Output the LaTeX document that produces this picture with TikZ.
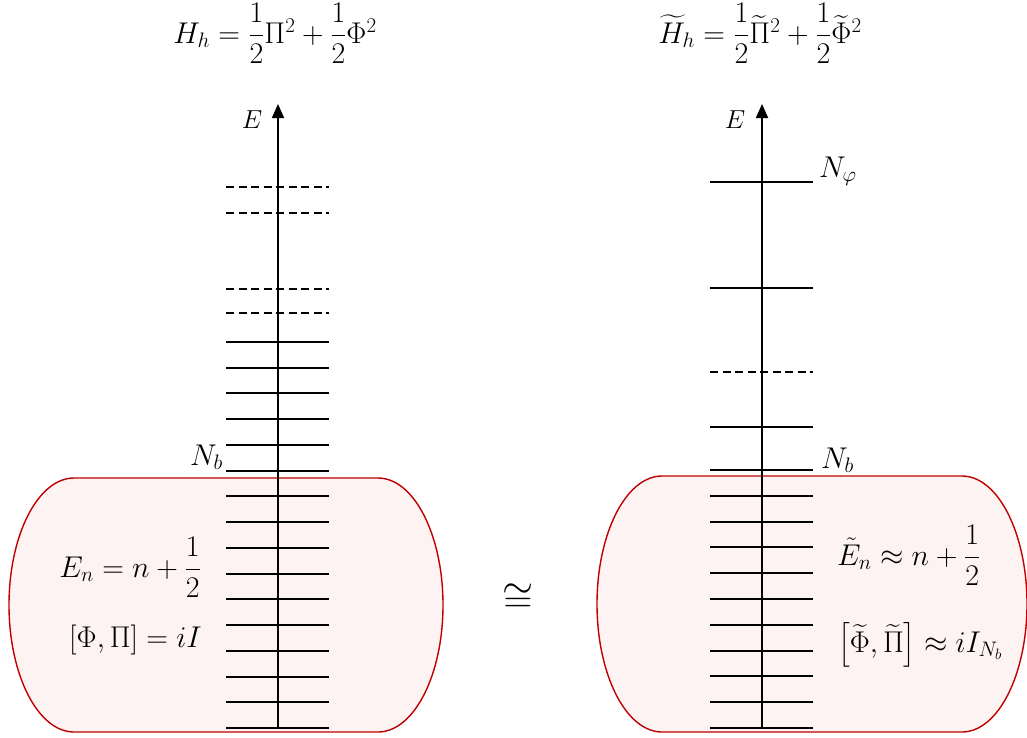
\RequirePackage{fix-cm}
\documentclass[tikz,border=0pt]{standalone}
\usepackage{amsmath}
\usepackage{tikz}
\usetikzlibrary{arrows.meta}
\definecolor{bandred}{RGB}{192,0,0}
\definecolor{bandfill}{RGB}{253,243,243}
\tikzset{
  rung/.style={line width=2pt, black},
  drung/.style={rung, dash pattern=on 8pt off 4.5pt},
  axis/.style={line width=1.8pt, -{Triangle[length=14pt, width=12pt]}},
  band/.style={draw=bandred, fill=bandfill, line width=1.4pt},
  eqn/.style={font=\fontsize{30}{34}\selectfont, inner sep=0pt},
  axlbl/.style={font=\fontsize{26}{30}\selectfont, inner sep=0pt},
  nlbl/.style={font=\fontsize{30}{34}\selectfont, inner sep=0pt},
}

\begin{document}
\begin{tikzpicture}[x=1pt, y=1pt]
  \useasboundingbox (0,0) rectangle (1027,-737);

  %% low-energy bands
  \draw[band] (74,-478) -- (378,-478)
    arc[start angle=90, end angle=-90, x radius=65, y radius=127] -- (74,-732)
    arc[start angle=270, end angle=90, x radius=65, y radius=127] -- cycle;
  \draw[band] (662,-476) -- (962,-476)
    arc[start angle=90, end angle=-90, x radius=65, y radius=128] -- (662,-732)
    arc[start angle=270, end angle=90, x radius=65, y radius=128] -- cycle;

  %% Hamiltonians
  \node[eqn, anchor=base] (hl) at (275,-43)
    {$H_h=\dfrac{1}{2}\Pi^2+\dfrac{1}{2}\Phi^2$};
  \node[eqn, anchor=base] (hr) at (760,-43)
    {$\widetilde{H}_h=\dfrac{1}{2}\widetilde{\Pi}^2+\dfrac{1}{2}\widetilde{\Phi}^2$};

  %% left spectrum
  \foreach \k in {0,...,15}
    \draw[rung] (226,{-round(342+25.733*\k)}) -- (329,{-round(342+25.733*\k)});
  \draw[drung] (226,-187) -- (329,-187);
  \draw[drung] (226,-213) -- (329,-213);
  \draw[drung] (226,-289) -- (329,-289);
  \draw[drung] (226,-313) -- (329,-313);
  \coordinate (lbot) at (278,-728);
  \coordinate (ltop) at (278,-104);
  \draw[axis] (lbot) -- (ltop);
  \node[axlbl, anchor=base] (el) at (252,-128) {$E$};
  \node[nlbl, anchor=base east] (nbl) at (223,-465) {$N_b$};

  %% right spectrum
  \foreach \k in {0,...,10}
    \draw[rung] (710,{-round(470+25.8*\k)}) -- (813,{-round(470+25.8*\k)});
  \draw[rung] (710,-182) -- (813,-182);
  \draw[rung] (710,-288) -- (813,-288);
  \draw[drung] (710,-372) -- (813,-372);
  \draw[rung] (710,-427) -- (813,-427);
  \coordinate (rbot) at (762,-728);
  \coordinate (rtop) at (762,-104);
  \draw[axis] (rbot) -- (rtop);
  \node[axlbl, anchor=base] (er) at (735,-128) {$E$};
  \node[nlbl, anchor=base west] (nphi) at (819,-177) {$N_\varphi$};
  \node[nlbl, anchor=base west] (nbr) at (821,-468) {$N_b$};

  %% relations inside the bands
  \node[eqn, anchor=base east] (enl) at (201,-577) {$E_n=n+\dfrac{1}{2}$};
  \node[eqn, anchor=base east] (coml) at (202,-647) {$[\Phi,\Pi]=iI$};
  \node[eqn, anchor=base west] (enr) at (837,-565)
    {$\tilde{E}_n\approx n+\dfrac{1}{2}$};
  \node[eqn, anchor=base west] (comr) at (838,-652)
    {$\left[\widetilde{\Phi},\widetilde{\Pi}\right]\approx iI_{N_b}$};

  %% isomorphism
  \node[font=\fontsize{40}{44}\selectfont, inner sep=0pt] (iso) at (518,-598) {$\cong$};

\end{tikzpicture}
\end{document}
